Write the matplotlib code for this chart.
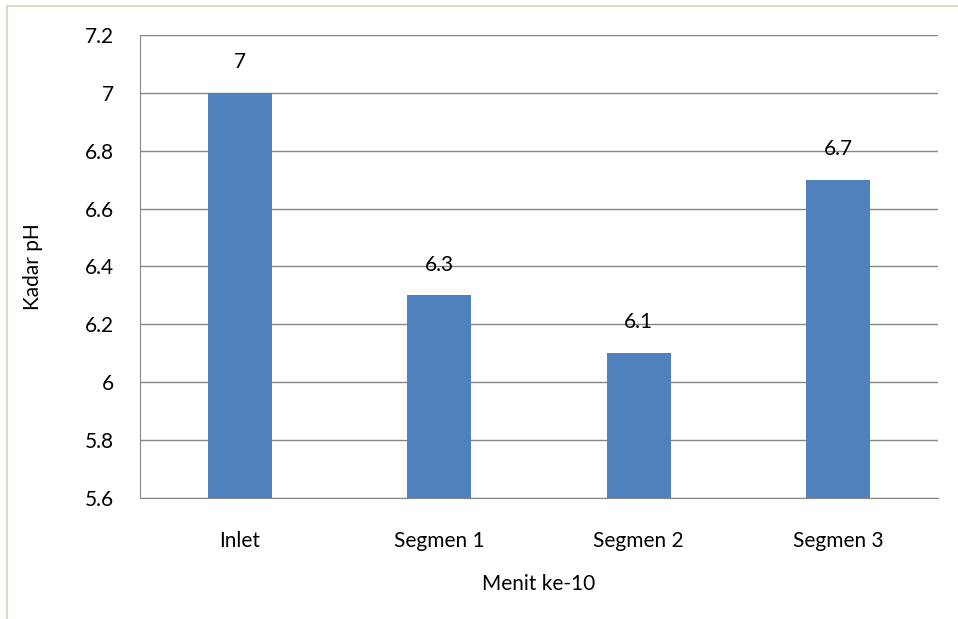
import matplotlib.pyplot as plt
from matplotlib.lines import Line2D

plt.rcParams['font.family'] = ['Lato', 'DejaVu Sans']

categories = ['Inlet', 'Segmen 1', 'Segmen 2', 'Segmen 3']
ph_values = [7, 6.3, 6.1, 6.7]
value_labels = ['7', '6.3', '6.1', '6.7']

fs = 15

fig = plt.figure(figsize=(9.58, 6.19), dpi=100)
ax = fig.add_axes([0.1461, 0.1955, 0.833, 0.748])

# light frame of the chart area (left and top only)
fig.add_artist(Line2D([0.0075, 0.0075], [0.0, 0.990], color='#DDD9C3', lw=1.5))
fig.add_artist(Line2D([0.0075, 1.0], [0.990, 0.990], color='#DDD9C3', lw=1.5))

x = range(len(categories))
bars = ax.bar(x, ph_values, width=0.32, color='#4F81BD', zorder=3)

for b, lab in zip(bars, value_labels):
    ax.annotate(lab, (b.get_x() + b.get_width() / 2, b.get_height()),
                xytext=(0, 15), textcoords='offset points',
                ha='center', va='bottom', fontsize=fs)

ax.set_ylim(5.6, 7.2)
ax.set_xlim(-0.5, 3.5)
ax.set_yticks([5.6, 5.8, 6.0, 6.2, 6.4, 6.6, 6.8, 7.0, 7.2])
ax.set_yticklabels(['5.6', '5.8', '6', '6.2', '6.4', '6.6', '6.8', '7', '7.2'])
ax.set_xticks(list(x))
ax.set_xticklabels(categories)
ax.tick_params(axis='both', length=0, labelsize=fs, colors='black')
ax.tick_params(axis='y', pad=19)
ax.tick_params(axis='x', pad=24)

ax.grid(axis='y', color='#868686', lw=1, zorder=0)
for s in ['top', 'right']:
    ax.spines[s].set_visible(False)
ax.spines['left'].set_color('#868686')
ax.spines['bottom'].set_color('#868686')

ax.set_xlabel('Menit ke-10', fontsize=fs, labelpad=16)
ax.set_ylabel('Kadar pH', fontsize=fs, labelpad=30)

fig.savefig('out.png', dpi=100)
